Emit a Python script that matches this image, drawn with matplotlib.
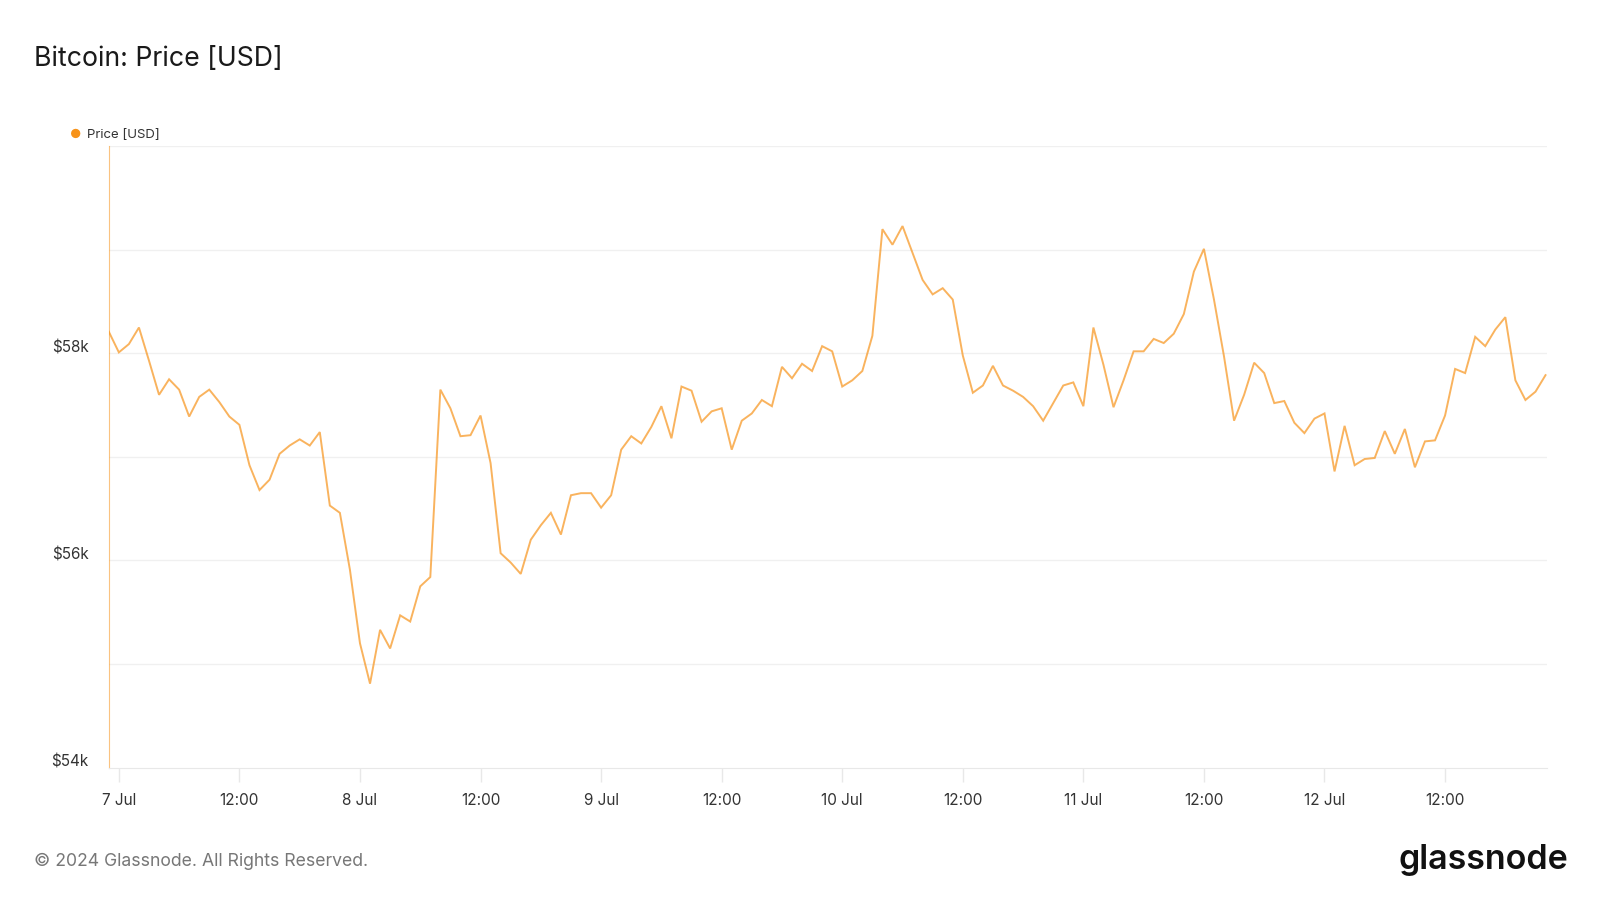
import matplotlib
matplotlib.use("Agg")
import matplotlib.dates as mdates
import matplotlib.pyplot as plt
import numpy as np
import pandas as pd

# Hourly BTC price (USD thousands), 6 Jul 23:00 -> 12 Jul 22:00
START = "2024-07-06 23:00"
price_k = [
    58.21, 58.01, 58.09, 58.25, 57.93, 57.60, 57.75, 57.65, 57.39, 57.58,
    57.65, 57.53, 57.39, 57.31, 56.92, 56.68, 56.78, 57.03, 57.11, 57.17,
    57.11, 57.24, 56.53, 56.46, 55.91, 55.20, 54.81, 55.33, 55.15, 55.47,
    55.41, 55.75, 55.84, 57.65, 57.47, 57.20, 57.21, 57.40, 56.94, 56.07,
    55.98, 55.87, 56.20, 56.34, 56.46, 56.25, 56.63, 56.65, 56.65, 56.51,
    56.63, 57.07, 57.20, 57.13, 57.29, 57.49, 57.18, 57.68, 57.64, 57.34,
    57.44, 57.47, 57.07, 57.35, 57.42, 57.55, 57.49, 57.87, 57.76, 57.90,
    57.83, 58.07, 58.02, 57.68, 57.74, 57.83, 58.17, 59.20, 59.05, 59.23,
    58.97, 58.71, 58.57, 58.63, 58.52, 57.98, 57.62, 57.69, 57.88, 57.69,
    57.64, 57.58, 57.49, 57.35, 57.52, 57.69, 57.72, 57.49, 58.25, 57.89,
    57.48, 57.74, 58.02, 58.02, 58.14, 58.10, 58.19, 58.38, 58.79, 59.01,
    58.52, 57.97, 57.35, 57.60, 57.91, 57.81, 57.52, 57.54, 57.33, 57.23,
    57.37, 57.42, 56.86, 57.30, 56.92, 56.98, 56.99, 57.25, 57.03, 57.27,
    56.90, 57.15, 57.16, 57.40, 57.85, 57.81, 58.16, 58.07, 58.23, 58.35,
    57.74, 57.55, 57.63, 57.79,
]
tick_labels = ["7 Jul", "12:00", "8 Jul", "12:00", "9 Jul", "12:00",
               "10 Jul", "12:00", "11 Jul", "12:00", "12 Jul", "12:00"]
y_labels = {54: "$54k", 56: "$56k", 58: "$58k"}

ORANGE = "#f7931a"
FONT = ["Inter", "DejaVu Sans"]
plt.rcParams["font.family"] = FONT

times = pd.date_range(START, periods=len(price_k), freq="h")
prices = np.array(price_k) * 1000

fig = plt.figure(figsize=(16, 9), dpi=100)
ax = fig.add_axes([0.068, 0.1472, 0.899, 0.6902])
ax.plot(times, prices, color=ORANGE, alpha=0.7, lw=1.4, solid_joinstyle="miter")

ax.set_xlim(times[0], times[-1] + pd.Timedelta(minutes=10))
ax.set_ylim(54000, 60000)

# horizontal grid every $1k, labels every $2k placed just above the line
for v in range(55, 61):
    ax.axhline(v * 1000, color="#f0f0f0", lw=1, zorder=0)
ax.set_yticks([])
for v, lab in y_labels.items():
    ax.annotate(lab, xy=(0, v * 1000), xycoords=("axes fraction", "data"),
                xytext=(-20, -2), textcoords="offset pixels",
                ha="right", va="bottom", fontsize=11, color="#333333")

tick_times = pd.date_range("2024-07-07", periods=len(tick_labels), freq="12h")
ax.set_xticks(mdates.date2num(tick_times))
ax.set_xticklabels(tick_labels)
ax.tick_params(axis="x", length=10, width=1, color="#e8e8e8", pad=8,
               labelsize=11, labelcolor="#333333")

for side in ("top", "right"):
    ax.spines[side].set_visible(False)
ax.spines["left"].set_color(ORANGE)
ax.spines["left"].set_alpha(0.55)
ax.spines["bottom"].set_color("#e8e8e8")

fig.text(0.021, 0.934, "Bitcoin: Price [USD]", fontsize=19.2, color="#1a1a1a",
         ha="left", va="center")
fig.text(0.0435, 0.850, "\u25CF", fontsize=9, color=ORANGE, ha="left", va="center")
fig.text(0.0545, 0.850, "Price [USD]", fontsize=9.5, color="#333333",
         ha="left", va="center")
fig.text(0.021, 0.043, "\u00a9 2024 Glassnode. All Rights Reserved.", fontsize=12.7,
         color="#777777", ha="left", va="center")
fig.text(0.980, 0.044, "glassnode", fontsize=24.5, color="#111111",
         ha="right", va="center", fontweight="semibold")

fig.savefig("out.png", dpi=100)
